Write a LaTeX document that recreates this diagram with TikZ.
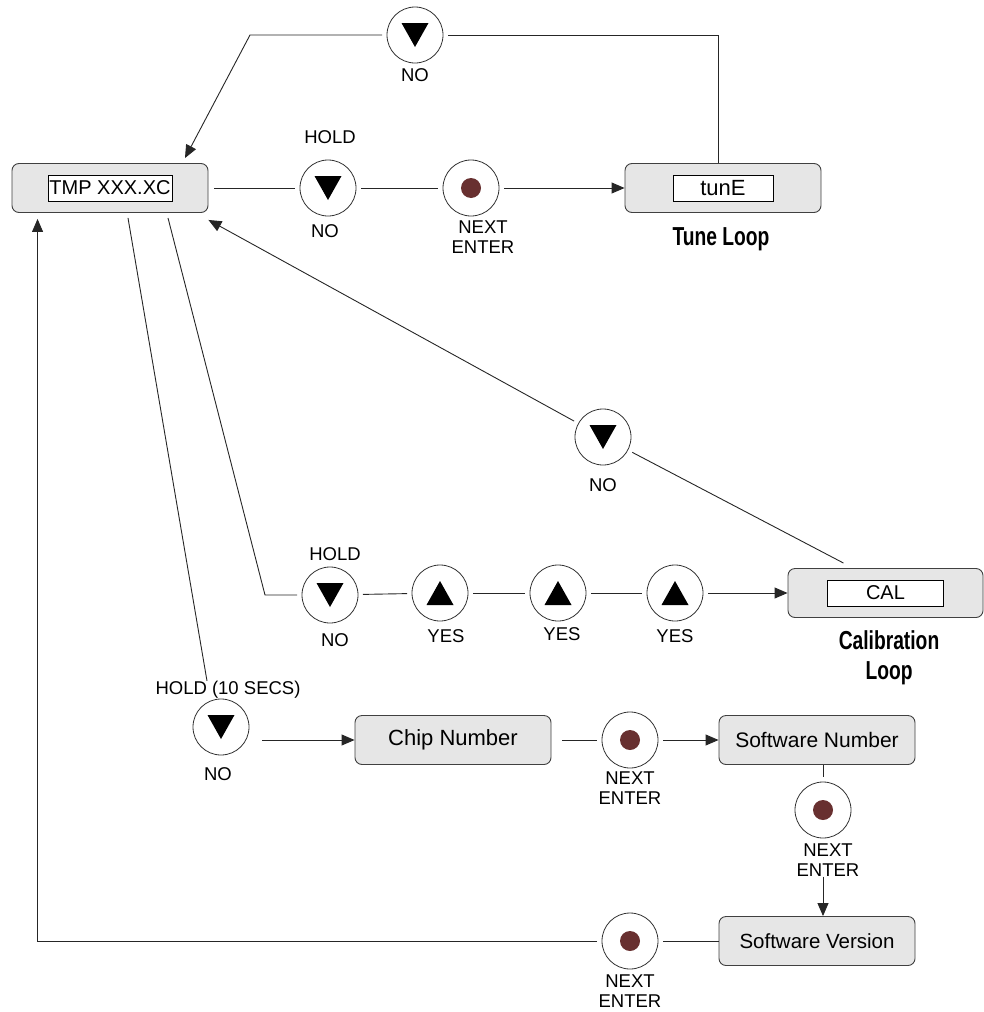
\documentclass[tikz,border=0pt]{standalone}
\usepackage{fontspec}
\setmainfont{Liberation Sans}
\newfontfamily\condbf{Liberation Sans}[FakeStretch=0.74]
\usetikzlibrary{arrows.meta,calc}
\definecolor{dotred}{RGB}{104,48,48}
\definecolor{boxgray}{RGB}{230,230,230}
\begin{document}
\begin{tikzpicture}[x=1pt,y=-1pt,
  line width=0.9pt,
  conn/.style={draw=black!85, line width=0.9pt},
  arr/.style={conn, -{Triangle[length=13pt,width=11pt]}},
  box/.style={draw=black!75, fill=boxgray, rounded corners=7pt, minimum width=196pt, minimum height=49pt, inner sep=0pt, line width=0.9pt, font=\fontsize{21}{23}\selectfont},
  disp/.style={draw=black, fill=white, line width=0.8pt, inner sep=0pt, minimum height=26pt, font=\fontsize{20}{22}\selectfont},
  btn/.style={circle, draw=black!80, line width=0.8pt, minimum size=56pt, inner sep=0pt, outer sep=5pt},
  downbtn/.style={btn, path picture={\fill ([shift={(-13.5pt,12pt)}]path picture bounding box.center) -- ++(27pt,0pt) -- ++(-13.5pt,-24pt) -- cycle;}},
  upbtn/.style={btn, path picture={\fill ([shift={(-13.5pt,-12pt)}]path picture bounding box.center) -- ++(27pt,0pt) -- ++(-13.5pt,24pt) -- cycle;}},
  dotbtn/.style={btn, path picture={\fill[dotred] (path picture bounding box.center) circle[radius=10pt];}},
  lbl/.style={font=\fontsize{18.5}{19.5}\selectfont, align=center, inner sep=0pt},
  title/.style={font=\condbf\bfseries\fontsize{26}{30}\selectfont, align=center, inner sep=0pt}
]
\useasboundingbox (0,0) rectangle (984,1012);

% boxes
\node[box] (tmp) at (110,188) {};
\node[disp, minimum width=124pt] (tmpd) at (tmp) {TMP XXX.XC};
\node[box] (tune) at (723,188) {};
\node[disp, minimum width=100pt, font=\fontsize{22}{24}\selectfont] (tuned) at (tune) {tunE};
\node[box, minimum width=195pt] (cal) at (885.5,593) {};
\node[disp, minimum width=116pt] (cald) at (cal) {CAL};
\node[box, font=\fontsize{22}{24}\selectfont] (chip) at (453,740) {Chip Number};
\node[box] (swn) at (817,740) {Software Number};
\node[box, font=\fontsize{20.5}{23}\selectfont] (swv) at (817,941) {Software Version};

% buttons
\node[downbtn] (ctop) at (415,35) {};
\node[downbtn] (c1) at (328,188) {};
\node[dotbtn] (c2) at (471,188) {};
\node[downbtn] (cno) at (603,437) {};
\node[downbtn] (c3) at (330,595) {};
\node[upbtn] (c4) at (440,593) {};
\node[upbtn] (c5) at (558,593) {};
\node[upbtn] (c6) at (675,593) {};
\node[downbtn] (c7) at (221,727) {};
\node[dotbtn] (c8) at (630,740) {};
\node[dotbtn] (c9) at (823,810) {};
\node[dotbtn] (c10) at (630,941) {};

% labels
\node[lbl] (l0) at (415,75) {NO};
\node[lbl] (h1) at (330,137) {HOLD};
\node[lbl] (l1) at (325,231) {NO};
\node[lbl] (l2) at (483,237) {NEXT\\ENTER};
\node[title] (tl) at (721,239) {Tune Loop};
\node[lbl] (l3) at (603,485) {NO};
\node[lbl] (h2) at (335,554) {HOLD};
\node[lbl] (l4) at (335,640) {NO};
\node[lbl] (y1) at (446,636) {YES};
\node[lbl] (y2) at (562,634) {YES};
\node[lbl] (y3) at (675,636) {YES};
\node[title] (cl) at (889,658) {Calibration\\Loop};
\node[lbl] (h3) at (228,690) {HOLD (10 SECS)};
\node[lbl] (l5) at (218,774) {NO};
\node[lbl] (l6) at (630,788) {NEXT\\ENTER};
\node[lbl] (l7) at (828,860) {NEXT\\ENTER};
\node[lbl] (l8) at (630,991) {NEXT\\ENTER};

% bend points
\coordinate (k1) at (250,35);
\coordinate (k2) at (265,595);

% connectors
\draw[conn] ([xshift=-5pt]tune.north) |- (ctop);
\draw[arr] (ctop) -- (k1) -- ([shift={(75pt,5pt)}]tmp.north);
\draw[conn, shorten <=6pt] (tmp) -- (c1);
\draw[conn] (c1) -- (c2);
\draw[arr] (c2) -- (tune);
\draw[conn] ([shift={(-42pt,5pt)}]cal.north) -- (cno);
\draw[arr] (cno) -- ([shift={(0pt,-7pt)}]tmp.south east);
\draw[conn] ([shift={(58pt,-5pt)}]tmp.south) -- (k2) -- (c3);
\draw[conn] (c3) -- (c4);
\draw[conn] (c4) -- (c5);
\draw[conn] (c5) -- (c6);
\draw[arr] (c6) -- (cal);
\draw[conn] ([shift={(18pt,-5pt)}]tmp.south) -- ([xshift=-21pt]h3.north);
\draw[arr] ($(c7.east |- chip.west)+(8pt,0pt)$) -- (chip.west);
\draw[conn, shorten <=11pt] (chip) -- (c8);
\draw[arr] (c8) -- (swn);
\draw[conn] (swn.south -| c9) -- (c9);
\draw[arr] (l7.south -| c9) -- (swv.north -| c9);
\draw[conn] (swv) -- (c10);
\draw[arr] (c10) -| ([shift={(26pt,-6pt)}]tmp.south west);
\end{tikzpicture}
\end{document}
